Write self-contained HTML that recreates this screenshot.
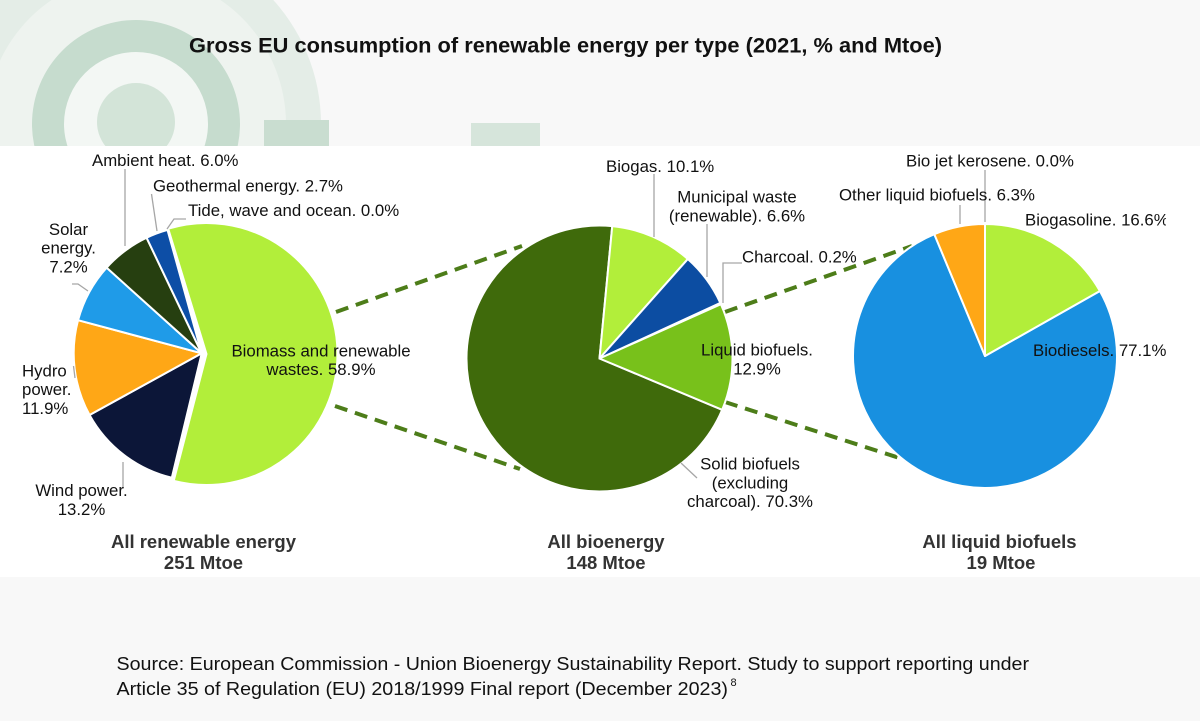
<!DOCTYPE html>
<html>
<head>
<meta charset="utf-8">
<style>
html,body{margin:0;padding:0;background:#f8f8f8;}
svg{display:block;}
</style>
</head>
<body>
<svg width="1200" height="721" viewBox="0 0 1200 721" xmlns="http://www.w3.org/2000/svg" font-family="'Liberation Sans', Arial, sans-serif">
  <defs>
    <clipPath id="rclip"><rect x="0" y="0" width="1166" height="721"/></clipPath>
  </defs>
  <!-- background -->
  <rect width="1200" height="721" fill="#f8f8f8"/>
  <rect x="0" y="0" width="1200" height="146" fill="#f8f8f8"/>
  <!-- decorative rings -->
  <circle cx="136" cy="124" r="185" fill="#e4ede7"/>
  <circle cx="136" cy="124" r="150" fill="#eef3ef"/>
  <circle cx="136" cy="124" r="104" fill="#c6dcce"/>
  <circle cx="136" cy="124" r="72" fill="#f3f7f4"/>
  <circle cx="136" cy="122" r="39" fill="#d3e4d8"/>
  <rect x="264" y="120" width="65" height="26" fill="#c9ddd0"/>
  <rect x="471" y="123" width="69" height="23" fill="#d6e5db"/>

  <!-- white chart panel -->
  <rect x="0" y="146" width="1200" height="431" fill="#ffffff"/>

  <!-- title -->
  <text x="189" y="52.7" font-size="21.5" font-weight="bold" fill="#111" textLength="753" lengthAdjust="spacingAndGlyphs">Gross EU consumption of renewable energy per type (2021, % and Mtoe)</text>

  <!-- dashed connectors -->
  <g stroke="#4d7d19" stroke-width="4" stroke-dasharray="13 8" fill="none">
    <line x1="336" y1="312" x2="522" y2="246"/>
    <line x1="335" y1="406" x2="520" y2="469"/>
    <line x1="725" y1="312" x2="912" y2="246"/>
    <line x1="725" y1="402" x2="912" y2="462"/>
  </g>

  <!-- Pie 1 -->
  <g stroke="#ffffff" stroke-width="2" stroke-linejoin="round">
    <path d="M201.7,353.3 L171.82,477.77 A128,128 0 0 1 89.53,414.97 Z" fill="#0c1638"/>
    <path d="M201.7,353.3 L89.53,414.97 A128,128 0 0 1 78.06,320.17 Z" fill="#ffa716"/>
    <path d="M201.7,353.3 L78.06,320.17 A128,128 0 0 1 106.58,267.66 Z" fill="#1f9be8"/>
    <path d="M201.7,353.3 L106.58,267.66 A128,128 0 0 1 146.6,237.77 Z" fill="#263f10"/>
    <path d="M201.7,353.3 L146.6,237.77 A128,128 0 0 1 167.5,229.96 Z" fill="#0d4ea6"/>
    <path d="M206.5,354 L168.2,228.72 A131,131 0 1 1 173.7,480.82 Z" fill="#b2ee3a"/>
  </g>

  <!-- Pie 2 -->
  <g stroke="#ffffff" stroke-width="2" stroke-linejoin="round">
    <path d="M599.5,358.5 L722.19,409.82 A133,133 0 1 1 612.24,226.11 Z" fill="#3f6a0b"/>
    <path d="M599.5,358.5 L612.24,226.11 A133,133 0 0 1 687.8,259.04 Z" fill="#b2ee3a"/>
    <path d="M599.5,358.5 L687.8,259.04 A133,133 0 0 1 720.33,302.92 Z" fill="#0c4da2"/>
    <path d="M599.5,358.5 L720.9,304.2 A133,133 0 0 1 722.19,409.82 Z" fill="#78c11b"/>
  </g>

  <!-- Pie 3 -->
  <g stroke="#ffffff" stroke-width="2" stroke-linejoin="round">
    <path d="M985,356 L1099.89,291 A132,132 0 1 1 934.27,234.14 Z" fill="#1890e0"/>
    <path d="M985,356 L985,224 A132,132 0 0 1 1099.89,291 Z" fill="#b2ee3a"/>
    <path d="M985,356 L934.27,234.14 A132,132 0 0 1 985,224 Z" fill="#ffa716"/>
  </g>

  <!-- leader lines -->
  <g stroke="#a6a6a6" stroke-width="1.3" fill="none">
    <line x1="125" y1="169" x2="125" y2="246"/>
    <line x1="151.5" y1="194" x2="157" y2="231"/>
    <polyline points="167,229 174,219 186,219"/>
    <polyline points="72,284 78,284 88,291"/>
    <line x1="73.5" y1="366" x2="75" y2="378"/>
    <line x1="123" y1="462" x2="123" y2="488"/>
    <line x1="654" y1="174" x2="654" y2="237"/>
    <line x1="707" y1="224" x2="707" y2="277"/>
    <polyline points="742,263 723,263 723,303"/>
    <line x1="697" y1="478" x2="681" y2="463"/>
    <line x1="985" y1="170" x2="985" y2="222"/>
    <line x1="960" y1="205" x2="960" y2="224"/>
  </g>

  <!-- labels -->
  <g font-size="16.8" fill="#111">
    <text x="92" y="166">Ambient heat. 6.0%</text>
    <text x="153" y="191.5">Geothermal energy. 2.7%</text>
    <text x="188" y="216">Tide, wave and ocean. 0.0%</text>
    <text x="68.5" y="235" text-anchor="middle">Solar</text>
    <text x="68.5" y="253.7" text-anchor="middle">energy.</text>
    <text x="68.5" y="272.4" text-anchor="middle">7.2%</text>
    <text x="22" y="376.5">Hydro</text>
    <text x="22" y="395">power.</text>
    <text x="22" y="414">11.9%</text>
    <text x="81.5" y="496" text-anchor="middle">Wind power.</text>
    <text x="81.5" y="515" text-anchor="middle">13.2%</text>
    <text x="321" y="356.5" text-anchor="middle">Biomass and renewable</text>
    <text x="321" y="375" text-anchor="middle">wastes. 58.9%</text>

    <text x="606" y="172">Biogas. 10.1%</text>
    <text x="737" y="202.5" text-anchor="middle">Municipal waste</text>
    <text x="737" y="221.5" text-anchor="middle">(renewable). 6.6%</text>
    <text x="742" y="262.5">Charcoal. 0.2%</text>
    <text x="757" y="355.5" text-anchor="middle">Liquid biofuels.</text>
    <text x="757" y="374.5" text-anchor="middle">12.9%</text>
    <text x="750" y="469.5" text-anchor="middle">Solid biofuels</text>
    <text x="750" y="488.5" text-anchor="middle">(excluding</text>
    <text x="750" y="507" text-anchor="middle">charcoal). 70.3%</text>

    <text x="906" y="166.5">Bio jet kerosene. 0.0%</text>
    <text x="839" y="200.5">Other liquid biofuels. 6.3%</text>
    <g clip-path="url(#rclip)">
      <text x="1025" y="225.5">Biogasoline. 16.6%</text>
      <text x="1033" y="356">Biodiesels. 77.1%</text>
    </g>
  </g>

  <!-- captions -->
  <g font-size="18.5" font-weight="bold" fill="#333" text-anchor="middle">
    <text x="203.5" y="548">All renewable energy</text>
    <text x="203.5" y="569">251 Mtoe</text>
    <text x="606" y="548">All bioenergy</text>
    <text x="606" y="569">148 Mtoe</text>
    <text x="999.5" y="548">All liquid biofuels</text>
    <text x="1001" y="569">19 Mtoe</text>
  </g>

  <!-- source -->
  <g font-size="18.6" fill="#111">
    <text x="116.5" y="670" textLength="912.5" lengthAdjust="spacingAndGlyphs">Source: European Commission - Union Bioenergy Sustainability Report. Study to support reporting under</text>
    <text x="116.5" y="695" textLength="611.5" lengthAdjust="spacingAndGlyphs">Article 35 of Regulation (EU) 2018/1999 Final report (December 2023)</text>
    <text x="730.5" y="686" font-size="11">8</text>
  </g>
</svg>
</body>
</html>
